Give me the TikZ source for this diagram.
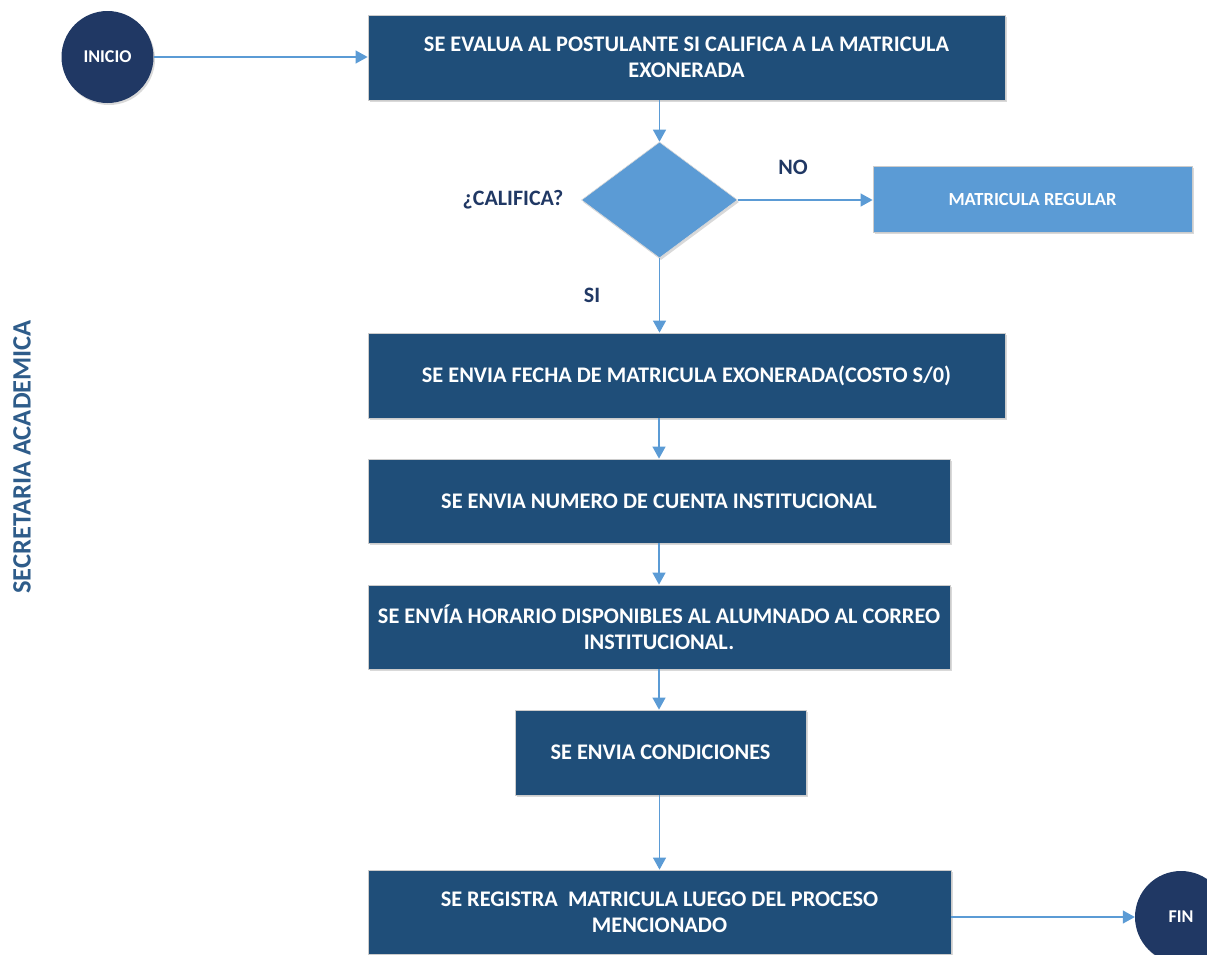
\documentclass[tikz,border=0pt]{standalone}
\usepackage{fontspec}
\setmainfont{Carlito}
\usetikzlibrary{shapes.geometric,arrows.meta,shadows}
\definecolor{boxblue}{HTML}{1F4E79}
\definecolor{navy}{HTML}{203864}
\definecolor{lightblue}{HTML}{5B9BD5}
\definecolor{labelblue}{HTML}{2E5C8A}
\tikzset{
  shade/.style={drop shadow={shadow xshift=1.5pt,shadow yshift=-2pt,opacity=0.25,fill=black!60}},
  process/.style={rectangle,fill=boxblue,draw=black!20,line width=0.8pt,shade,
    text=white,align=center,inner sep=0pt,
    font=\bfseries\fontsize{22.3}{26.5}\selectfont},
  terminal/.style={circle,fill=navy,draw=none,shade,text=white,inner sep=0pt,
    minimum size=92pt,font=\bfseries\fontsize{18}{20}\selectfont},
  decision/.style={diamond,fill=lightblue,draw=black!15,line width=0.6pt,shade,
    inner sep=0pt,minimum width=156pt,minimum height=116pt},
  lightbox/.style={rectangle,fill=lightblue,draw=black!20,line width=0.8pt,shade,
    text=white,inner sep=0pt,font=\bfseries\fontsize{18.5}{20}\selectfont},
  label/.style={text=navy,font=\bfseries\fontsize{22}{26}\selectfont},
  flow/.style={draw=lightblue,line width=1.2pt,-{Triangle[length=12pt,width=13pt]}}
}
\begin{document}
\begin{tikzpicture}[x=1pt,y=-1pt]
\useasboundingbox (0,0) rectangle (1207,954);
\clip (0,0) rectangle (1207,954);

% side label of the swimlane
\node[rotate=90,text=labelblue,font=\bfseries\fontsize{26.5}{28}\selectfont] (lane) at (22,457) {SECRETARIA ACADEMICA};

% start and end
\node[terminal] (ini) at (107.5,57) {INICIO};
\node[terminal] (fin) at (1181,917) {FIN};

% process steps
\node[process,minimum width=637pt,minimum height=85pt] (eval) at (686.5,57.5)
  {SE EVALUA AL POSTULANTE SI CALIFICA A LA MATRICULA\\EXONERADA};
\node[decision] (dec) at (659.5,200) {};
\node[lightbox,minimum width=319pt,minimum height=66pt] (reg) at (1032.5,199) {MATRICULA REGULAR};
\node[process,minimum width=637pt,minimum height=85pt] (fecha) at (686.5,375.5)
  {SE ENVIA FECHA DE MATRICULA EXONERADA(COSTO S/0)};
\node[process,minimum width=582pt,minimum height=84pt] (cuenta) at (659,501)
  {SE ENVIA NUMERO DE CUENTA INSTITUCIONAL};
\node[process,minimum width=582pt,minimum height=84pt] (horario) at (659,627)
  {SE ENVÍA HORARIO DISPONIBLES AL ALUMNADO AL CORREO\\INSTITUCIONAL.};
\node[process,minimum width=291pt,minimum height=85pt] (cond) at (660.5,752.5)
  {SE ENVIA CONDICIONES};
\node[process,minimum width=583pt,minimum height=84pt] (reg2) at (659.5,912)
  {SE REGISTRA\ \ MATRICULA LUEGO DEL PROCESO\\MENCIONADO};

% labels of the decision
\node[label] (q) at (513,200) {¿CALIFICA?};
\node[label] (no) at (793,167) {NO};
\node[label] (si) at (592,295) {SI};

% connectors
\draw[flow] (ini.east) -- (ini.east -| eval.west);
\draw[flow] (eval.south -| dec.north) -- (dec.north);
\draw[flow] (dec.east) -- (dec.east -| reg.west);
\draw[flow] (dec.south) -- (dec.south |- fecha.north);
\draw[flow] (fecha.south -| cuenta.north) -- (cuenta.north);
\draw[flow] (cuenta.south) -- (horario.north);
\draw[flow] (horario.south) -- (horario.south |- cond.north);
\draw[flow] (cond.south -| reg2.north) -- (reg2.north);
\draw[flow] (reg2.east |- fin.west) -- (fin.west);
\end{tikzpicture}
\end{document}
